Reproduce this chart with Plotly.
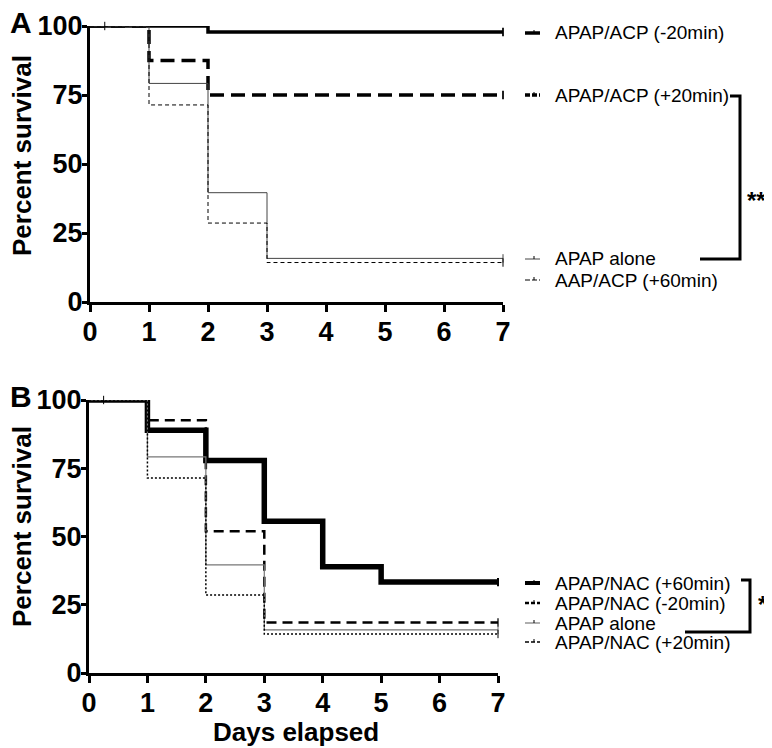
import plotly.graph_objects as go

# page offset (browser default body margin) compensation
OFF = 8
W, H = 772 - OFF, 748 - OFF

# ---------------- data ----------------
days_ticks = [0, 1, 2, 3, 4, 5, 6, 7]
pct_ticks = [0, 25, 50, 75, 100]

# Panel A
a_acp_m20_x = [0, 2, 7]
a_acp_m20_y = [100, 97.8, 97.8]
a_acp_p20_x = [0, 1, 2, 7]
a_acp_p20_y = [100, 87.5, 75, 75]
a_alone_x = [0, 1, 2, 3, 7]
a_alone_y = [100, 79.2, 39.6, 15.8, 15.8]
a_acp_p60_x = [0, 1, 2, 3, 7]
a_acp_p60_y = [100, 71.4, 28.6, 14.3, 14.3]

# Panel B
b_nac_p60_x = [0, 1, 2, 3, 4, 5, 7]
b_nac_p60_y = [100, 88.9, 77.8, 55.6, 38.9, 33.3, 33.3]
b_nac_m20_x = [0, 1, 2, 3, 7]
b_nac_m20_y = [100, 92.6, 51.9, 18.5, 18.5]
b_alone_x = [0, 1, 2, 3, 7]
b_alone_y = [100, 79.2, 39.6, 15.8, 15.8]
b_nac_p20_x = [0, 1, 2, 3, 7]
b_nac_p20_y = [100, 71.4, 28.6, 14.3, 14.3]

labels_A = ["APAP/ACP (-20min)", "APAP/ACP (+20min)", "APAP alone", "AAP/ACP (+60min)"]
labels_B = ["APAP/NAC (+60min)", "APAP/NAC (-20min)", "APAP alone", "APAP/NAC (+20min)"]

# styles
sty_A = [dict(color="black", width=3.5, dash="solid"),
         dict(color="black", width=3.5, dash="14px,7px"),
         dict(color="#444444", width=1, dash="solid"),
         dict(color="black", width=1, dash="4px,3px")]
sty_B = [dict(color="black", width=5.5, dash="solid"),
         dict(color="black", width=2.5, dash="10px,6px"),
         dict(color="#777777", width=1.2, dash="solid"),
         dict(color="black", width=1.5, dash="2px,2px")]


def px(x):
    return (x - OFF) / W


def py(y):
    return 1 - (y - OFF) / H


fig = go.Figure()

series_A = [(a_acp_m20_x, a_acp_m20_y), (a_acp_p20_x, a_acp_p20_y),
            (a_alone_x, a_alone_y), (a_acp_p60_x, a_acp_p60_y)]
series_B = [(b_nac_p60_x, b_nac_p60_y), (b_nac_m20_x, b_nac_m20_y),
            (b_alone_x, b_alone_y), (b_nac_p20_x, b_nac_p20_y)]

for (xs, ys), st, lab in zip(series_A, sty_A, labels_A):
    fig.add_trace(go.Scatter(x=xs, y=ys, mode="lines", line=dict(shape="hv", **st),
                             name=lab, xaxis="x", yaxis="y", showlegend=False))
    fig.add_trace(go.Scatter(x=[xs[-1]], y=[ys[-1]], mode="markers", cliponaxis=False,
                             marker=dict(symbol="line-ns", size=6,
                                         line=dict(color=st["color"], width=max(1, st["width"] * 0.5))),
                             xaxis="x", yaxis="y", showlegend=False, hoverinfo="skip"))
for (xs, ys), st, lab in zip(series_B, sty_B, labels_B):
    fig.add_trace(go.Scatter(x=xs, y=ys, mode="lines", line=dict(shape="hv", **st),
                             name=lab, xaxis="x2", yaxis="y2", showlegend=False))
    fig.add_trace(go.Scatter(x=[xs[-1]], y=[ys[-1]], mode="markers", cliponaxis=False,
                             marker=dict(symbol="line-ns", size=6,
                                         line=dict(color=st["color"], width=max(1, min(st["width"] * 0.5, 2)))),
                             xaxis="x2", yaxis="y2", showlegend=False, hoverinfo="skip"))

# censor tick near start
for xa, ya in (("x", "y"), ("x2", "y2")):
    fig.add_trace(go.Scatter(x=[0.25], y=[100], mode="markers", cliponaxis=False,
                             marker=dict(symbol="line-ns", size=6, line=dict(color="black", width=1)),
                             xaxis=xa, yaxis=ya, showlegend=False, hoverinfo="skip"))

tickfont = dict(family="Liberation Sans, Arial, sans-serif", size=27, color="black", weight="bold")
axis_common = dict(showgrid=False, zeroline=False, showline=True, linecolor="black", linewidth=3,
                   ticks="outside", tickwidth=2.5, tickcolor="black", tickfont=tickfont,
                   automargin=False)
xax = dict(range=[0, 7], tickvals=days_ticks, ticklen=7, ticklabelstandoff=-3, **axis_common)
yax = dict(range=[0, 100], tickvals=pct_ticks, ticklen=5, ticklabelstandoff=-6, **axis_common)

fig.update_layout(
    width=W, height=H, margin=dict(l=0, r=0, t=0, b=0, autoexpand=False),
    plot_bgcolor="white", paper_bgcolor="white",
    xaxis=dict(domain=[px(90), px(503)], anchor="y", **xax),
    yaxis=dict(domain=[py(302), py(26)], anchor="x", **yax),
    xaxis2=dict(domain=[px(89), px(498)], anchor="y2", **xax),
    yaxis2=dict(domain=[py(673), py(400)], anchor="x2", **yax),
)

titlefont = dict(family="Liberation Sans, Arial, sans-serif", size=26, color="black", weight="bold")
legfont = dict(family="Liberation Sans, Arial, sans-serif", size=19, color="black")
letterfont = dict(family="Liberation Sans, Arial", size=30, color="black", weight="bold")

ann = []
ann.append(dict(text="A", x=px(8), y=py(22), xanchor="left", yanchor="middle", font=letterfont))
ann.append(dict(text="B", x=px(8), y=py(397), xanchor="left", yanchor="middle", font=letterfont))
ann.append(dict(text="Percent survival", x=px(22), y=py(156), textangle=-90,
                xanchor="center", yanchor="middle", font=titlefont))
ann.append(dict(text="Percent survival", x=px(22), y=py(527), textangle=-90,
                xanchor="center", yanchor="middle", font=titlefont))
ann.append(dict(text="Days elapsed", x=px(296), y=py(732), xanchor="center", yanchor="middle",
                font=titlefont))

legA_y = [33, 95, 259, 280]
legB_y = [583, 603, 623, 642]
shapes = []
for lab, yy, st in zip(labels_A, legA_y, sty_A):
    ann.append(dict(text=lab, x=px(553), y=py(yy), xanchor="left", yanchor="middle", font=legfont))
    shapes.append(dict(type="line", xref="paper", yref="paper", x0=px(525), x1=px(540), y0=py(yy), y1=py(yy),
                       line=dict(color=st["color"], width=st["width"],
                                 dash="solid" if st["dash"] == "solid" else "5px,2px")))
    shapes.append(dict(type="line", xref="paper", yref="paper", x0=px(534), x1=px(534), y0=py(yy - 3), y1=py(yy),
                       line=dict(color="black", width=1)))
for lab, yy, st in zip(labels_B, legB_y, sty_B):
    ann.append(dict(text=lab, x=px(553), y=py(yy), xanchor="left", yanchor="middle", font=legfont))
    shapes.append(dict(type="line", xref="paper", yref="paper", x0=px(525), x1=px(540), y0=py(yy), y1=py(yy),
                       line=dict(color=st["color"], width=min(st["width"], 4),
                                 dash="solid" if st["dash"] == "solid" else "4px,2px")))
    shapes.append(dict(type="line", xref="paper", yref="paper", x0=px(534), x1=px(534), y0=py(yy - 3), y1=py(yy),
                       line=dict(color="black", width=1)))

# significance brackets
shapes.append(dict(type="path", xref="paper", yref="paper",
                   path=f"M {px(730)},{py(96)} L {px(740)},{py(96)} L {px(740)},{py(259)} L {px(700)},{py(259)}",
                   line=dict(color="black", width=3)))
ann.append(dict(text="**", x=px(745), y=py(200), xanchor="left", yanchor="middle",
                font=dict(family="Liberation Sans, Arial", size=24, color="black", weight="bold")))
shapes.append(dict(type="path", xref="paper", yref="paper",
                   path=f"M {px(741)},{py(580)} L {px(750)},{py(580)} L {px(750)},{py(632)} L {px(685)},{py(632)}",
                   line=dict(color="black", width=3)))
ann.append(dict(text="*", x=px(756), y=py(604), xanchor="left", yanchor="middle",
                font=dict(family="Liberation Sans, Arial", size=24, color="black", weight="bold")))

for a in ann:
    a.update(xref="paper", yref="paper", showarrow=False)
fig.update_layout(annotations=ann, shapes=shapes)

fig.write_html("out.html")
